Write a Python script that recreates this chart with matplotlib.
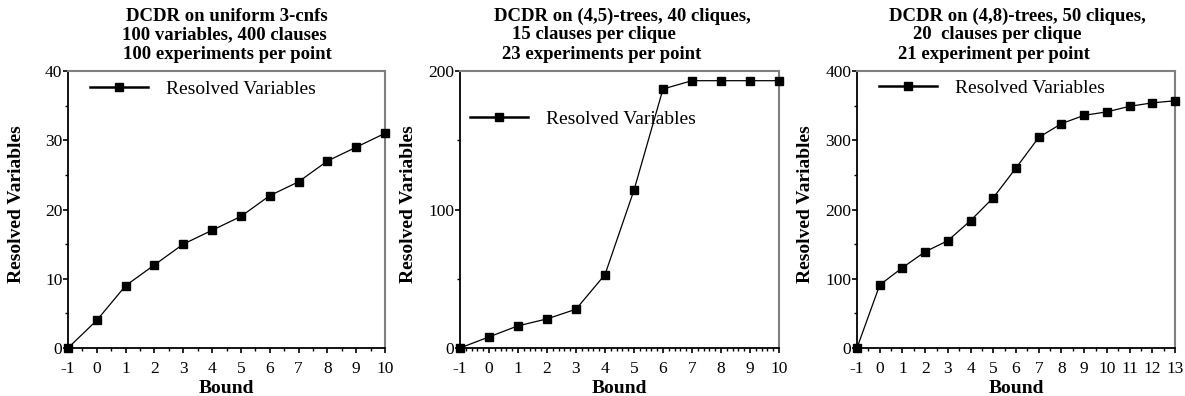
import matplotlib
matplotlib.use("Agg")
import matplotlib.pyplot as plt
from matplotlib.lines import Line2D
from matplotlib.ticker import MultipleLocator

plt.rcParams['font.family'] = ['Liberation Serif', 'DejaVu Serif']
plt.rcParams['axes.unicode_minus'] = False

# data
bound_a = [-1, 0, 1, 2, 3, 4, 5, 6, 7, 8, 9, 10]
resolved_a = [0, 4, 9, 12, 15, 17, 19, 22, 24, 27, 29, 31]

bound_b = [-1, 0, 1, 2, 3, 4, 5, 6, 7, 8, 9, 10]
resolved_b = [0, 8, 16, 21, 28, 53, 114, 187, 193, 193, 193, 193]

bound_c = [-1, 0, 1, 2, 3, 4, 5, 6, 7, 8, 9, 10, 11, 12, 13]
resolved_c = [0, 91, 116, 139, 155, 184, 217, 260, 304, 324, 336, 341, 349, 354, 357]

titles_a = ["DCDR on uniform 3-cnfs", "100 variables, 400 clauses", "100 experiments per point"]
titles_b = ["DCDR on (4,5)-trees, 40 cliques,", "15 clauses per clique", "23 experiments per point"]
titles_c = ["DCDR on (4,8)-trees, 50 cliques,", "20  clauses per clique", "21 experiment per point"]

W, H = 1185, 396
fig = plt.figure(figsize=(W / 100, H / 100), dpi=100)

panels = [
    # (left px, right px, xdata, ydata, ymax, ymajor, yminor, xmax, xminor, titles, title x centers, legend pos)
    (68, 385, bound_a, resolved_a, 40, 10, 5, 10, 0.5, titles_a, [227, 224, 227], (0.069, 0.935)),
    (460, 779, bound_b, resolved_b, 200, 100, 50, 10, 0.2, titles_b, [622, 594, 602], (0.031, 0.827)),
    (857, 1175, bound_c, resolved_c, 400, 100, 50, 13, 0.5, titles_c, [1017, 997, 994], (0.069, 0.939)),
]
top_px, bot_px = 71, 348

for left, right, xs, ys, ymax, ymaj, ymin, xmax, xmin, titles, tx, legpos in panels:
    ax = fig.add_axes([left / W, 1 - bot_px / H, (right - left) / W, (bot_px - top_px) / H])
    ax.plot(xs, ys, color='black', lw=0.9, marker='s', ms=5.5, mfc='black', mec='black',
            clip_on=False, zorder=3)
    ax.set_xlim(-1, xmax)
    ax.set_ylim(0, ymax)
    ax.set_xticks(range(-1, xmax + 1))
    ax.set_yticks(range(0, ymax + 1, ymaj))
    ax.xaxis.set_minor_locator(MultipleLocator(xmin))
    ax.yaxis.set_minor_locator(MultipleLocator(ymin))
    ax.tick_params(axis='x', which='major', direction='out', length=3.5, width=1.2,
                   labelsize=12.5, pad=6)
    ax.tick_params(axis='x', which='minor', direction='out', length=2, width=1)
    ax.tick_params(axis='y', which='major', direction='out', length=3.5, width=1.2,
                   labelsize=12.5, pad=0.5)
    ax.tick_params(axis='y', which='minor', direction='out', length=2, width=1)
    for s in ['left', 'bottom']:
        ax.spines[s].set_color('black')
        ax.spines[s].set_linewidth(1.3)
    for s in ['top', 'right']:
        ax.spines[s].set_color('#808080')
        ax.spines[s].set_linewidth(1.5)
    ax.set_xlabel('Bound', fontsize=14, fontweight='bold', labelpad=2)
    ax.set_ylabel('Resolved Variables', fontsize=14, fontweight='bold')
    ax.yaxis.set_label_coords(-43 / (right - left), 0.52)

    handle = Line2D([], [], color='black', lw=1.8, marker='s', ms=5.5)
    ax.legend(handles=[handle], labels=['Resolved Variables'], loc='center left',
              bbox_to_anchor=legpos, frameon=False, fontsize=14, handlelength=3.0,
              handletextpad=0.9, borderpad=0, borderaxespad=0)

    for line, cx, by in zip(titles, tx, [20.7, 39.3, 58.7]):
        fig.text(cx / W, 1 - by / H, line, ha='center', va='baseline',
                 fontsize=13.5, fontweight='bold')

fig.savefig('out.png', dpi=100)
